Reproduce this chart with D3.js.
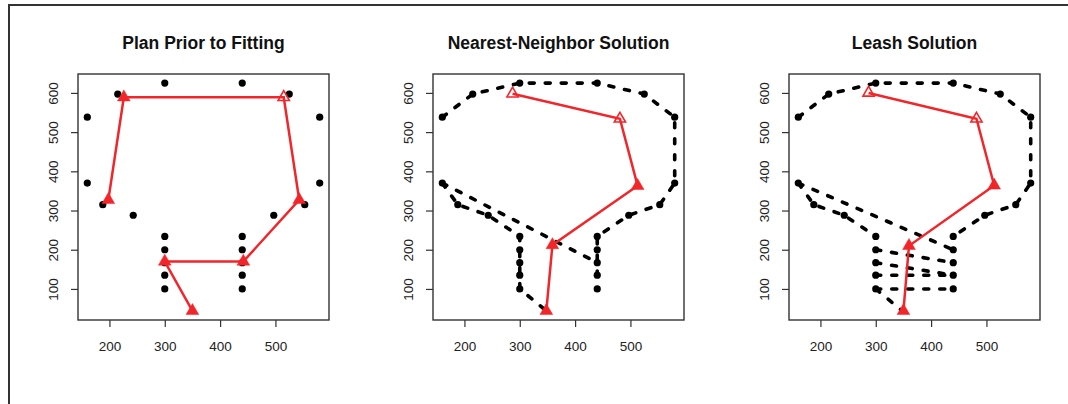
<!DOCTYPE html>
<html>
<head>
<meta charset="utf-8">
<script src="https://cdn.jsdelivr.net/npm/d3@7/dist/d3.min.js"></script>
<style>
  body { margin: 0; background: #fff; }
  text { font-family: "Liberation Sans", Arial, sans-serif; }
</style>
</head>
<body>
<div id="chart"></div>
<script>
// observed points (black dots), index is used by the link lists below
var ptX = [160, 215, 300, 440, 525, 580, 580, 553, 497, 440, 440, 440, 440, 440, 160, 188, 243, 300, 300, 300, 300, 300, 348];
var ptY = [538, 597, 625, 625, 597, 538, 370, 315, 288, 234, 200, 167, 135, 100, 370, 315, 288, 234, 200, 167, 135, 100, 44];
var dotCount = 22; // last point is only a path end, no dot

// red plan in each panel
var planX = [198, 226, 515, 543, 442, 300, 350];
var planY = [327, 589, 589, 327, 170, 170, 44];
var planOpen = [0, 0, 1, 0, 0, 0, 0];
var nnX = [287, 481, 513, 359, 348];
var nnY = [598, 534, 363, 212, 44];
var nnOpen = [1, 1, 0, 0, 0];
var leashX = [287, 482, 514, 360, 350];
var leashY = [600, 534, 364, 210, 44];
var leashOpen = [1, 1, 0, 0, 0];

// dashed black links (point indexes)
var nnLinks = [
  [0, 1, 2, 3, 4, 5, 6, 7, 8, 9, 10, 11, 12],
  [14, 15, 16, 17, 18, 19, 20, 21, 22],
  [14, 11]
];
var leashLinks = [
  [0, 1, 2, 3, 4, 5, 6, 7, 8, 9],
  [14, 15, 16, 17],
  [14, 10],
  [18, 11],
  [19, 12],
  [20, 12],
  [21, 13],
  [21, 22]
];

var titles = ["Plan Prior to Fitting", "Nearest-Neighbor Solution", "Leash Solution"];
var xTicks = [200, 300, 400, 500];
var yTicks = [100, 200, 300, 400, 500, 600];

var panels = [
  { title: titles[0], px: planX, py: planY, open: planOpen, links: [] },
  { title: titles[1], px: nnX, py: nnY, open: nnOpen, links: nnLinks },
  { title: titles[2], px: leashX, py: leashY, open: leashOpen, links: leashLinks }
];

var svgWidth = 1068, svgHeight = 404;
var boxLeft = [78, 433, 789];
var boxW = 251, boxTop = 74, boxH = 246;
var red = "#f2262a";

var svg = d3.select("#chart").append("svg")
  .attr("width", svgWidth)
  .attr("height", svgHeight);

// outer frame (top + left only)
svg.append("path")
  .attr("d", "M9,404 L9,5 L1068,5")
  .attr("fill", "none")
  .attr("stroke", "#333")
  .attr("stroke-width", 2);

// R-like padded range
function padded(vals) {
  var e = d3.extent(vals);
  var p = (e[1] - e[0]) * 0.04;
  return [e[0] - p, e[1] + p];
}
var allX = ptX.concat(planX), allY = ptY.concat(planY);
var xDom = padded(allX), yDom = padded(allY);

panels.forEach(function(pan, k) {
  var g = svg.append("g").attr("transform", `translate(${boxLeft[k]}, ${boxTop})`);

  var x = d3.scaleLinear().domain(xDom).range([0, boxW]);
  var y = d3.scaleLinear().domain(yDom).range([boxH, 0]);

  // title
  g.append("text")
    .attr("x", boxW / 2)
    .attr("y", -25)
    .attr("text-anchor", "middle")
    .attr("font-size", "17.5px")
    .attr("font-weight", "bold")
    .attr("fill", "#111")
    .text(pan.title);

  // axes
  var xAxis = g.append("g")
    .attr("transform", `translate(0, ${boxH})`)
    .call(d3.axisBottom(x).tickValues(xTicks).tickSize(7).tickPadding(14));
  var yAxis = g.append("g")
    .call(d3.axisLeft(y).tickValues(yTicks).tickSize(7).tickPadding(0));
  [xAxis, yAxis].forEach(function(a) {
    a.select(".domain").remove();
    a.selectAll("line").attr("stroke", "#333").attr("stroke-width", 1.2);
    a.selectAll("text").attr("font-size", "13.5px").attr("fill", "#222")
      .attr("font-family", "Liberation Sans, Arial, sans-serif");
  });
  yAxis.selectAll("text")
    .attr("x", -25)
    .attr("dy", null)
    .attr("text-anchor", "middle")
    .attr("dominant-baseline", "central")
    .attr("transform", "rotate(-90, -25, 0)");

  // box
  g.append("rect")
    .attr("width", boxW)
    .attr("height", boxH)
    .attr("fill", "none")
    .attr("stroke", "#333")
    .attr("stroke-width", 1.4);

  // dashed links
  var line = d3.line().x(i => x(ptX[i])).y(i => y(ptY[i]));
  g.selectAll(".link")
    .data(pan.links)
    .enter()
    .append("path")
    .attr("class", "link")
    .attr("d", line)
    .attr("fill", "none")
    .attr("stroke", "#000")
    .attr("stroke-width", 3.6)
    .attr("stroke-linecap", "round")
    .attr("stroke-dasharray", "5,11");

  // dots
  g.selectAll(".dot")
    .data(d3.range(dotCount))
    .enter()
    .append("circle")
    .attr("class", "dot")
    .attr("cx", i => x(ptX[i]))
    .attr("cy", i => y(ptY[i]))
    .attr("r", 3.6)
    .attr("fill", "#000");

  // red plan
  var idx = d3.range(pan.px.length);
  var pline = d3.line().x(i => x(pan.px[i])).y(i => y(pan.py[i]));
  g.append("path")
    .attr("d", pline(idx))
    .attr("fill", "none")
    .attr("stroke", red)
    .attr("stroke-width", 2.5);

  var tri = d3.symbol().type(d3.symbolTriangle);
  g.selectAll(".tri")
    .data(idx)
    .enter()
    .append("path")
    .attr("class", "tri")
    .attr("transform", i => `translate(${x(pan.px[i])}, ${y(pan.py[i])})`)
    .attr("d", i => tri.size(pan.open[i] ? 55 : 70)())
    .attr("fill", i => pan.open[i] ? "none" : red)
    .attr("stroke", red)
    .attr("stroke-width", i => pan.open[i] ? 1.6 : 0.5);
});
</script>
</body>
</html>
